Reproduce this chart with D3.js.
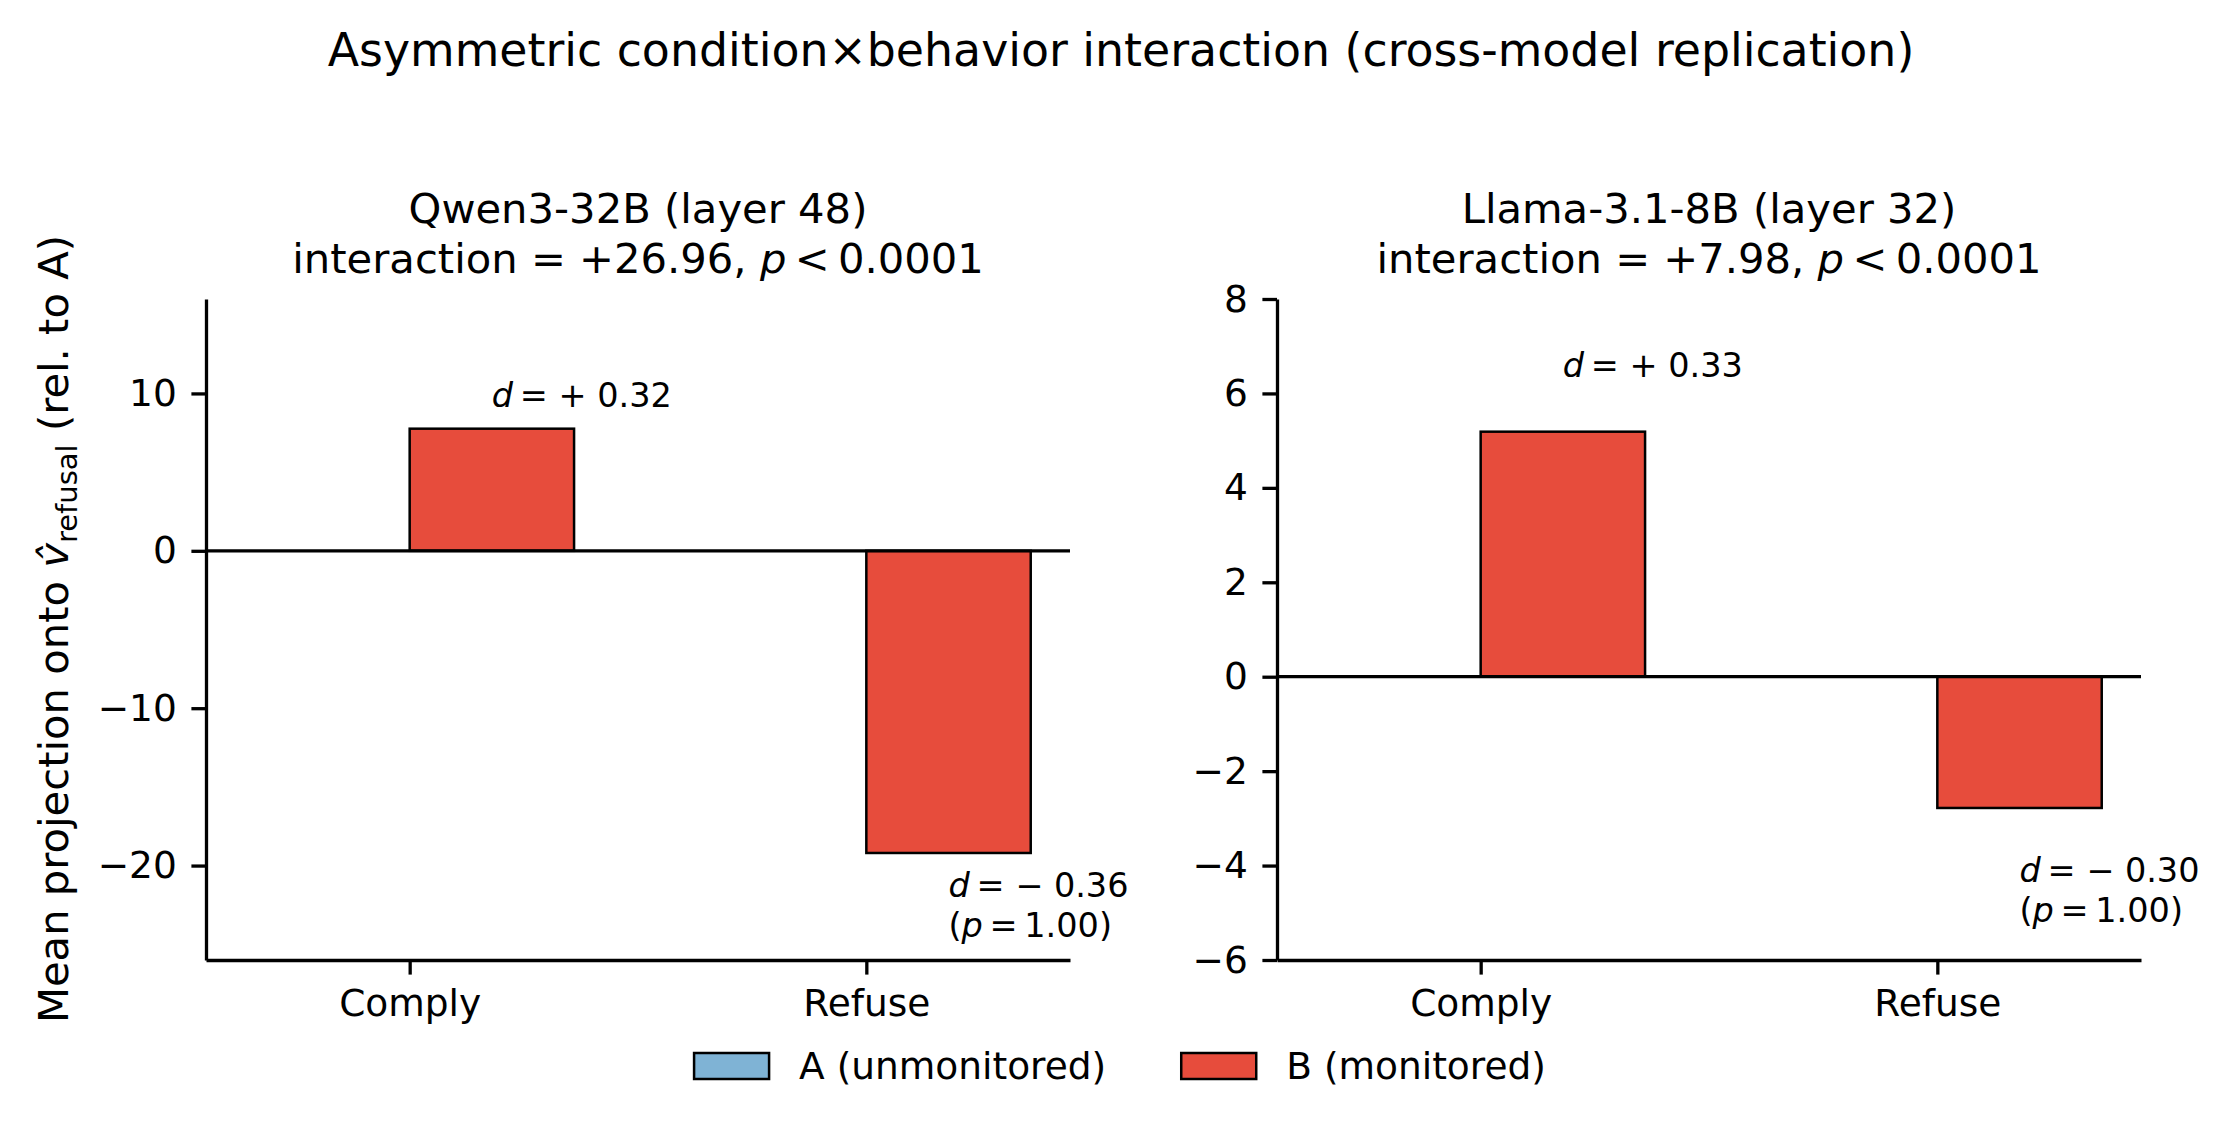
<!DOCTYPE html>
<html>
<head>
<meta charset="utf-8">
<script src="https://cdn.jsdelivr.net/npm/d3@7"></script>
<style>
  body { margin: 0; background: #fff; }
  svg { display: block; font-family: "DejaVu Sans", sans-serif; }
</style>
</head>
<body>
<div id="chart"></div>
<script>
// data
var behaviors = ["Comply", "Refuse"];
var conditions = ["A (unmonitored)", "B (monitored)"];
var conditionColors = ["#7fb3d5", "#e74c3c"];

var qwenA = [0, 0];
var qwenB = [7.76, -19.20];
var qwenD = ["+0.32", "\u22120.36"];
var qwenP = [null, "1.00"];
var qwenTicks = [-20, -10, 0, 10];
var qwenYlim = [-26, 16];

var llamaA = [0, 0];
var llamaB = [5.19, -2.78];
var llamaD = ["+0.33", "\u22120.30"];
var llamaP = [null, "1.00"];
var llamaTicks = [-6, -4, -2, 0, 2, 4, 6, 8];
var llamaYlim = [-6, 8];

var barWidth = 0.36;

var W = 2235, H = 1132;
var svg = d3.select("#chart").append("svg")
  .attr("width", W)
  .attr("height", H);

svg.append("text")
  .attr("x", 1121)
  .attr("y", 66)
  .attr("text-anchor", "middle")
  .style("font-size", "45.8px")
  .text("Asymmetric condition\u00d7behavior interaction (cross-model replication)");

function renderPanel(opts) {
  var width = 864, height = 661;
  var g = svg.append("g")
    .attr("transform", "translate(" + opts.left + "," + 299 + ")");

  // matplotlib-style auto x limits with 5% margin
  var lo = -barWidth, hi = behaviors.length - 1 + barWidth;
  var m = 0.05 * (hi - lo);
  var x = d3.scaleLinear().domain([lo - m, hi + m]).range([0, width]);
  var y = d3.scaleLinear().domain(opts.ylim).range([height, 0]);

  var series = [opts.a, opts.b];
  series.forEach(function(vals, si) {
    g.selectAll(".bar" + si)
      .data(vals)
      .enter().append("rect")
      .attr("class", "bar" + si)
      .attr("x", function(d, i) { return x(i + (si === 0 ? -barWidth : 0)); })
      .attr("width", x(barWidth) - x(0))
      .attr("y", function(d) { return y(Math.max(0, d)); })
      .attr("height", function(d) { return Math.abs(y(d) - y(0)); })
      .attr("fill", conditionColors[si])
      .attr("stroke", "#000")
      .attr("stroke-width", 2.5);
  });

  // zero line
  g.append("line")
    .attr("x1", 0).attr("x2", width)
    .attr("y1", y(0)).attr("y2", y(0))
    .attr("stroke", "#000")
    .attr("stroke-width", 3.3);

  var yAxis = g.append("g")
    .call(d3.axisLeft(y).tickValues(opts.ticks).tickSize(14.6).tickPadding(14.6).tickSizeOuter(0));
  var xAxis = g.append("g")
    .attr("transform", "translate(0," + height + ")")
    .call(d3.axisBottom(x).tickValues(d3.range(behaviors.length))
      .tickFormat(function(i) { return behaviors[i]; })
      .tickSize(14.6).tickPadding(14.6).tickSizeOuter(0));
  [yAxis, xAxis].forEach(function(ax) {
    ax.attr("font-family", null).attr("font-size", null);
    ax.selectAll("text").style("font-size", "37.5px").attr("fill", "#000");
    ax.selectAll("line, path").attr("stroke", "#000").attr("stroke-width", 3.3);
  });

  // effect-size annotations, left-aligned at the B bar centre
  opts.b.forEach(function(v, i) {
    var cx = x(i + barWidth / 2);
    var ty = v >= 0 ? y(v) - opts.padUp : y(v) + opts.padDown;
    var t = g.append("text")
      .attr("x", cx)
      .attr("y", ty)
      .style("font-size", "33.5px");
    t.append("tspan").style("font-style", "italic").text("d");
    t.append("tspan").text("\u2009= " + opts.d[i].charAt(0) + " 0" + opts.d[i].slice(2));
    if (opts.p[i]) {
      var t2 = g.append("text")
        .attr("x", cx)
        .attr("y", ty + 40.5)
        .style("font-size", "33.5px");
      t2.append("tspan").text("(");
      t2.append("tspan").style("font-style", "italic").text("p");
      t2.append("tspan").text("\u2009=\u2009" + opts.p[i] + ")");
    }
  });

  // two-line title
  var title = g.append("text")
    .attr("text-anchor", "middle")
    .style("font-size", "41.7px");
  title.append("tspan").attr("x", width / 2).attr("y", -76).text(opts.name);
  var l2 = title.append("tspan").attr("x", width / 2).attr("y", -26);
  l2.append("tspan").text("interaction = " + opts.interaction + ", ");
  l2.append("tspan").style("font-style", "italic").text("p");
  l2.append("tspan").text("\u2009<\u20090.0001");

  return g;
}

renderPanel({ left: 206, a: qwenA, b: qwenB, d: qwenD, p: qwenP, ticks: qwenTicks, ylim: qwenYlim,
  name: "Qwen3-32B (layer 48)", interaction: "+26.96", padUp: 22, padDown: 44 });
renderPanel({ left: 1277, a: llamaA, b: llamaB, d: llamaD, p: llamaP, ticks: llamaTicks, ylim: llamaYlim,
  name: "Llama-3.1-8B (layer 32)", interaction: "+7.98", padUp: 55, padDown: 74 });

// y label
var ylab = svg.append("text")
  .attr("transform", "translate(68," + 629 + ") rotate(-90)")
  .attr("text-anchor", "middle")
  .style("font-size", "41.7px");
ylab.append("tspan").text("Mean projection onto ");
ylab.append("tspan").style("font-style", "italic").text("v\u0302");
ylab.append("tspan").attr("dy", 9).style("font-size", "29px").text("refusal");
ylab.append("tspan").attr("dy", -9).text(" (rel. to A)");

// legend
var legend = svg.append("g");
var lx = 0;
conditions.forEach(function(c, i) {
  var item = legend.append("g").attr("transform", "translate(" + lx + ",0)");
  item.append("rect")
    .attr("x", 0).attr("y", -13)
    .attr("width", 75).attr("height", 26)
    .attr("fill", conditionColors[i])
    .attr("stroke", "#000")
    .attr("stroke-width", 2.5);
  var t = item.append("text")
    .attr("x", 105).attr("y", 13)
    .style("font-size", "37.5px")
    .text(c);
  lx += 105 + t.node().getComputedTextLength() + 75;
});
var lw = lx - 75;
legend.attr("transform", "translate(" + (1120 - lw / 2) + ",1066)");
</script>
</body>
</html>
